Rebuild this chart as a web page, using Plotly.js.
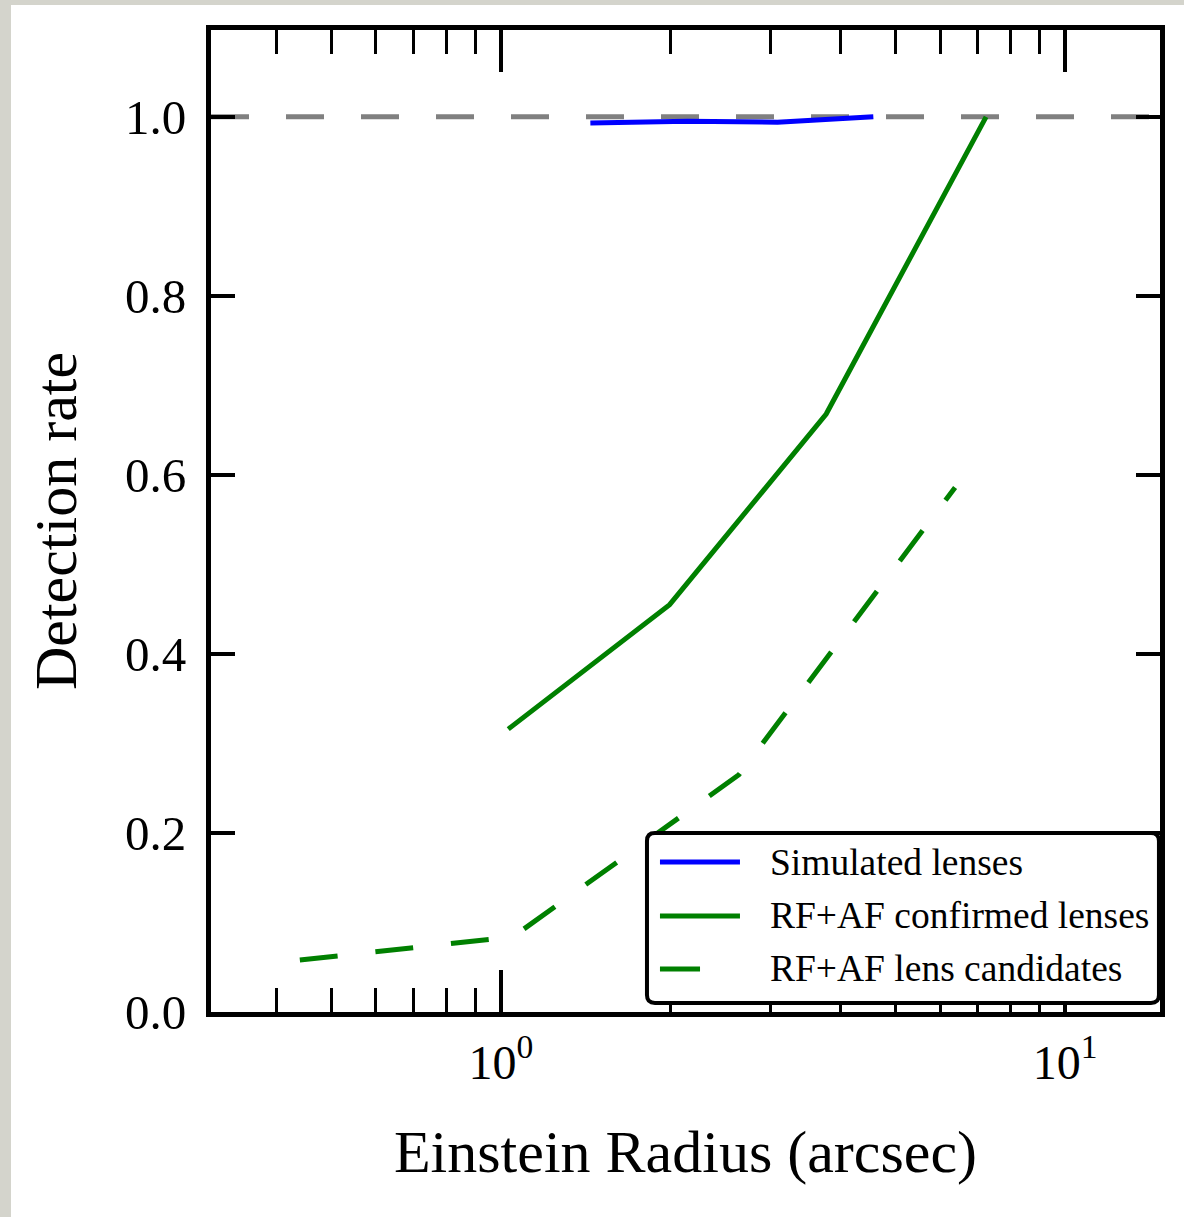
<!DOCTYPE html>
<html>
<head>
<meta charset="utf-8">
<script src="https://cdn.plot.ly/plotly-3.0.1.min.js"></script>
<style>
  html, body { margin: 0; padding: 0; width: 1184px; height: 1217px; background: #d4d4cc; overflow: hidden; }
  #chart { position: absolute; left: 11px; top: 5px; width: 1173px; height: 1212px; background: #ffffff; }
</style>
</head>
<body>
<div id="chart"></div>
<script>
// ---- data ----
const seriesNames = ["Simulated lenses", "RF+AF confirmed lenses", "RF+AF lens candidates"];
const simX  = [1.44, 2.14, 3.09, 4.57];
const simY  = [0.993, 0.995, 0.994, 1.0];
const confX = [1.03, 1.99, 3.77, 7.24];
const confY = [0.316, 0.455, 0.668, 1.0];
const candX = [0.44, 1.05, 2.64, 6.38];
const candY = [0.058, 0.084, 0.265, 0.586];
const referenceLevel = 1.0;
const xTickVals = [1, 10];
const xTickText = ["10<sup>0</sup>", "10<sup>1</sup>"];
const xMinorVals = [0.4, 0.5, 0.6, 0.7, 0.8, 0.9, 2, 3, 4, 5, 6, 7, 8, 9];
const yTickVals = [0.0, 0.2, 0.4, 0.6, 0.8, 1.0];
const yTickText = ["0.0", "0.2", "0.4", "0.6", "0.8", "1.0"];

const serif = "Liberation Serif, Times New Roman, serif";
const colors = ["#0000ff", "#008000", "#008000"];
const dashes = ["solid", "solid", "38px,38px"];

const traces = [
  {x: simX, y: simY, name: seriesNames[0], mode: "lines", line: {color: colors[0], width: 5, dash: dashes[0]}},
  {x: confX, y: confY, name: seriesNames[1], mode: "lines", line: {color: colors[1], width: 5, dash: dashes[1]}},
  {x: candX, y: candY, name: seriesNames[2], mode: "lines", line: {color: colors[2], width: 5, dash: dashes[2]}}
];

// legend box geometry (paper coords)
const lx0 = 0.4594, lx1 = 0.9989, ly0 = 0.0092, ly1 = 0.1823, rx = 0.0084, ry = 0.0081;
const boxPath = `M${lx0+rx},${ly1} L${lx1-rx},${ly1} Q${lx1},${ly1} ${lx1},${ly1-ry} L${lx1},${ly0+ry} Q${lx1},${ly0} ${lx1-rx},${ly0} L${lx0+rx},${ly0} Q${lx0},${ly0} ${lx0},${ly0+ry} L${lx0},${ly1-ry} Q${lx0},${ly1} ${lx0+rx},${ly1} Z`;
const rowY = [0.1527, 0.0978, 0.0438];
const sx0 = 0.4731, sx1 = [0.5574, 0.5574, 0.5153], tx = 0.5869;

const shapes = [
  {type: "line", xref: "paper", x0: 0, x1: 1, yref: "y", y0: referenceLevel, y1: referenceLevel,
   line: {color: "#808080", width: 5, dash: "38px,37px"}, layer: "below"},
  {type: "path", xref: "paper", yref: "paper", path: boxPath, fillcolor: "#ffffff",
   line: {color: "#000000", width: 4}, layer: "above"}
];
const annotations = [];
seriesNames.forEach((nm, i) => {
  shapes.push({type: "line", xref: "paper", yref: "paper", x0: sx0, x1: sx1[i], y0: rowY[i], y1: rowY[i],
    line: {color: colors[i], width: 5, dash: "solid"}, layer: "above"});
  annotations.push({xref: "paper", yref: "paper", x: tx, y: rowY[i], xanchor: "left", yanchor: "middle",
    text: nm, showarrow: false, font: {family: serif, size: 37.5, color: "#000"}});
});

const layout = {
  width: 1173, height: 1212,
  paper_bgcolor: "#ffffff", plot_bgcolor: "#ffffff",
  margin: {l: 200, r: 24, t: 25, b: 205},
  showlegend: false,
  font: {family: serif, color: "#000"},
  xaxis: {
    type: "log", range: [-0.514, 1.168],
    tickmode: "array", tickvals: xTickVals, ticktext: xTickText,
    ticks: "inside", ticklen: 42, tickwidth: 4, tickcolor: "#000",
    showline: true, linewidth: 5, linecolor: "#000", mirror: "allticks",
    showgrid: false, zeroline: false,
    tickfont: {family: serif, size: 48, color: "#000"},
    ticklabelstandoff: 4,
    minor: {tickmode: "array", tickvals: xMinorVals, ticks: "inside", ticklen: 24, tickwidth: 3, tickcolor: "#000", showgrid: false},
    title: {text: "Einstein Radius (arcsec)", font: {family: serif, size: 60, color: "#000"}, standoff: 44}
  },
  yaxis: {
    range: [0, 1.097],
    tickmode: "array", tickvals: yTickVals, ticktext: yTickText,
    ticks: "inside", ticklen: 24, tickwidth: 4, tickcolor: "#000",
    showline: true, linewidth: 5, linecolor: "#000", mirror: "allticks",
    showgrid: false, zeroline: false,
    tickfont: {family: serif, size: 49, color: "#000"},
    ticklabelstandoff: 10,
    title: {text: "Detection rate", font: {family: serif, size: 60, color: "#000"}, standoff: 30}
  },
  shapes: shapes,
  annotations: annotations
};

Plotly.newPlot("chart", traces, layout, {displayModeBar: false, staticPlot: true});
</script>
</body>
</html>
